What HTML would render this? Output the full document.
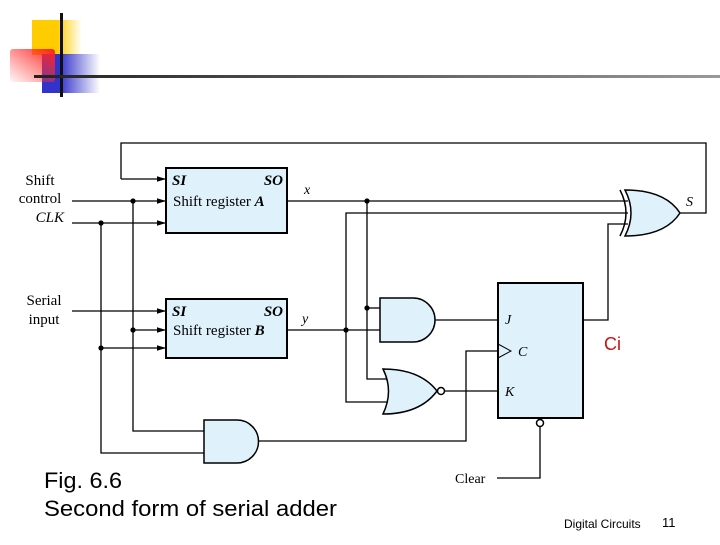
<!DOCTYPE html>
<html><head><style>body{margin:0;background:#fff;width:720px;height:540px;overflow:hidden}</style></head><body>
<svg width="720" height="540" viewBox="0 0 720 540" xmlns="http://www.w3.org/2000/svg">
<defs>
<linearGradient id="gy" x1="0" x2="1"><stop offset="0.5" stop-color="#ffcc00"/><stop offset="1" stop-color="#ffcc00" stop-opacity="0"/></linearGradient>
<linearGradient id="gb" x1="0" x2="1"><stop offset="0.3" stop-color="#3333cc"/><stop offset="1" stop-color="#3333cc" stop-opacity="0"/></linearGradient>
<linearGradient id="gr" x1="1" y1="0" x2="0" y2="1"><stop offset="0" stop-color="#ff2020"/><stop offset="1" stop-color="#ff4040" stop-opacity="0.05"/></linearGradient>
<linearGradient id="gl" x1="0" x2="1"><stop offset="0" stop-color="#222"/><stop offset="1" stop-color="#999"/></linearGradient>
<marker id="ar" viewBox="0 0 10 10" refX="10" refY="5" markerWidth="7" markerHeight="7" orient="auto"><path d="M0,2 L10,5 L0,8z" fill="#000"/></marker>
</defs>
<rect x="32" y="20" width="50" height="35" fill="url(#gy)"/>
<rect x="42" y="54" width="58" height="39" fill="url(#gb)"/>
<rect x="10" y="49" width="45" height="33" rx="3" fill="url(#gr)"/>
<rect x="60" y="13" width="3" height="84" fill="#111"/>
<rect x="34" y="75" width="686" height="3" fill="url(#gl)"/>

<g stroke="#000" stroke-width="1.3" fill="none">
<polyline points="121,179 121,143 706,143 706,213 680,213"/>
<line x1="121" y1="179" x2="166" y2="179" marker-end="url(#ar)"/>
<line x1="72" y1="201" x2="166" y2="201" marker-end="url(#ar)"/>
<line x1="72" y1="223" x2="166" y2="223" marker-end="url(#ar)"/>
<line x1="72" y1="311" x2="166" y2="311" marker-end="url(#ar)"/>
<line x1="133" y1="330" x2="166" y2="330" marker-end="url(#ar)"/>
<line x1="101" y1="348" x2="166" y2="348" marker-end="url(#ar)"/>
<polyline points="133,201 133,431 204,431"/>
<polyline points="101,223 101,453 204,453"/>
<line x1="287" y1="201" x2="628" y2="201"/>
<polyline points="628,213 346,213 346,402 387,402"/>
<line x1="287" y1="330" x2="380" y2="330"/>
<polyline points="367,201 367,379 387,379"/>
<line x1="367" y1="308" x2="380" y2="308"/>
<line x1="435" y1="320" x2="498" y2="320"/>
<line x1="445" y1="391" x2="498" y2="391"/>
<polyline points="258,441 466,441 466,351 498,351"/>
<polyline points="583,320 608,320 608,224 628,224"/>
<polyline points="540,427 540,478 497,478"/>
</g>
<g stroke="#000" stroke-width="2" fill="#dff2fb">
<rect x="166" y="168" width="121" height="65"/>
<rect x="166" y="299" width="121" height="59"/>
<rect x="498" y="283" width="85" height="135"/>
</g>
<g stroke="#000" stroke-width="1.5" fill="#dff2fb">
<path d="M380,298 H413 A22,22 0 0 1 413,342 H380 Z"/>
<path d="M204,420 H237 A21.5,21.5 0 0 1 237,463 H204 Z"/>
<path d="M383,369 Q420,369 437,391 Q420,414 383,414 Q394,391 383,369 Z"/>
<path d="M625,190 Q665,190 680,213 Q665,236 625,236 Q637,213 625,190 Z"/>
<circle cx="441" cy="391" r="3.5" fill="#fff"/>
<circle cx="540" cy="423" r="3.5" fill="#fff"/>
</g>
<path d="M620,190 Q632,213 620,236" stroke="#000" stroke-width="1.5" fill="none"/>
<polyline points="498,344 511,351 498,358" stroke="#000" stroke-width="1" fill="none"/>
<g fill="#000">
<circle cx="133" cy="201" r="2.6"/><circle cx="101" cy="223" r="2.6"/>
<circle cx="133" cy="330" r="2.6"/><circle cx="101" cy="348" r="2.6"/>
<circle cx="367" cy="201" r="2.6"/><circle cx="367" cy="308" r="2.6"/>
<circle cx="346" cy="330" r="2.6"/>
</g>
<g font-family="Liberation Serif, serif" font-size="15" fill="#000">
<text x="40" y="185" text-anchor="middle">Shift</text>
<text x="40" y="203" text-anchor="middle">control</text>
<text x="64" y="222" text-anchor="end" font-style="italic">CLK</text>
<text x="44" y="305" text-anchor="middle">Serial</text>
<text x="44" y="324" text-anchor="middle">input</text>
<text x="172" y="185" font-style="italic" font-weight="bold">SI</text>
<text x="283" y="185" text-anchor="end" font-style="italic" font-weight="bold">SO</text>
<text x="173" y="206">Shift register <tspan font-style="italic" font-weight="bold">A</tspan></text>
<text x="172" y="316" font-style="italic" font-weight="bold">SI</text>
<text x="283" y="316" text-anchor="end" font-style="italic" font-weight="bold">SO</text>
<text x="173" y="335">Shift register <tspan font-style="italic" font-weight="bold">B</tspan></text>
<text x="304" y="194" font-style="italic" font-size="14">x</text>
<text x="302" y="323" font-style="italic" font-size="14">y</text>
<text x="686" y="206" font-style="italic" font-size="14">S</text>
<text x="505" y="324" font-style="italic" font-size="14">J</text>
<text x="518" y="356" font-style="italic" font-size="14">C</text>
<text x="505" y="396" font-style="italic" font-size="14">K</text>
<text x="455" y="483" font-size="14">Clear</text>
</g>
<text x="604" y="350" font-family="Liberation Sans, sans-serif" font-size="18" fill="#cc1111">Ci</text>
<g font-family="Liberation Sans, sans-serif" fill="#000">
<text x="44" y="488" font-size="22" textLength="78" lengthAdjust="spacingAndGlyphs">Fig. 6.6</text>
<text x="44" y="516" font-size="22" textLength="293" lengthAdjust="spacingAndGlyphs">Second form of serial adder</text>
<text x="564" y="528" font-size="12">Digital Circuits</text>
<text x="662" y="527" font-size="13">11</text>
</g>
</svg>
</body></html>
